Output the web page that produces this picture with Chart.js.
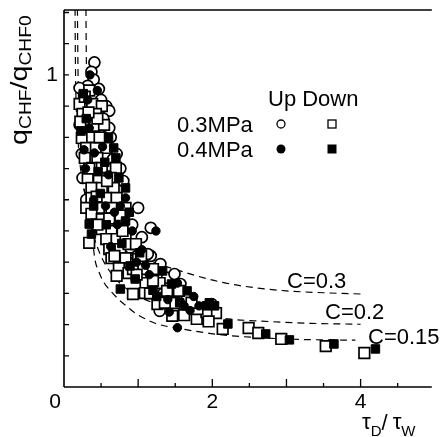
<!DOCTYPE html>
<html><head><meta charset="utf-8">
<script src="https://cdn.jsdelivr.net/npm/chart.js@4.4.1/dist/chart.umd.min.js"></script>
<style>html,body{margin:0;padding:0;background:#fff;}canvas{display:block;}</style>
</head><body>
<canvas id="c" width="441" height="437"></canvas>
<script>
// ---- data ----
const upOpenX = [0.41,0.37,0.40,0.32,0.47,0.50,0.57,0.44,0.61,0.21,0.63,0.61,0.71,0.76,0.80,0.24,0.25,1.00,1.17,0.89,1.17,1.39,1.29,1.99,1.86,1.49,1.30,1.13,1.57,0.21,0.35,0.54,0.92,1.05,0.66,0.48,1.66,0.30,
  0.27,0.53,0.42,0.86,1.34,0.66];
const upOpenY = [1.04,1.01,0.985,0.965,0.955,0.92,0.90,0.89,0.885,0.958,0.80,0.83,0.747,0.70,0.66,0.747,0.67,0.574,0.51,0.446,0.42,0.35,0.244,0.266,0.237,0.362,0.394,0.426,0.33,0.84,0.70,0.62,0.52,0.48,0.55,0.81,0.29,0.60,
  0.80,0.86,0.65,0.40,0.30,0.73];

const downOpenX = [0.21,0.38,0.51,0.25,0.43,0.28,0.41,0.54,0.24,0.38,0.30,0.43,0.57,0.28,0.45,0.38,0.51,0.70,0.32,0.47,0.63,0.37,0.51,0.67,0.37,0.57,0.71,0.30,0.47,0.64,0.83,
  0.37,0.51,0.67,0.76,0.51,0.64,0.34,0.57,0.71,0.83,0.61,0.76,0.64,0.83,0.74,0.71,0.87,
  0.87,0.97,1.00,0.93,1.07,1.20,1.10,1.29,0.93,1.09,1.39,1.55,1.26,1.49,1.46,1.79,2.05,2.14,1.92,1.95,1.80,
  2.49,2.62,2.93,3.53,4.05,0.34,0.28,0.45,
  0.22,0.33,0.48,0.34,0.58,0.44,0.61,0.45,0.79,0.98,1.16,1.36,1.62,1.04,0.68,1.20,1.72];
const downOpenY = [0.907,0.907,0.90,0.875,0.875,0.837,0.837,0.84,0.798,0.80,0.766,0.766,0.766,0.734,0.734,0.702,0.702,0.702,0.67,0.67,0.67,0.638,0.638,0.638,0.606,0.606,0.606,0.574,0.574,0.574,0.574,
  0.555,0.538,0.532,0.55,0.506,0.50,0.462,0.474,0.474,0.478,0.442,0.442,0.413,0.413,0.381,0.356,0.365,
  0.458,0.458,0.41,0.378,0.378,0.378,0.333,0.333,0.298,0.301,0.308,0.308,0.266,0.269,0.228,0.218,0.237,0.186,0.24,0.21,0.25,
  0.189,0.173,0.154,0.131,0.109,0.95,0.93,0.86,
  0.85,0.88,0.80,0.70,0.66,0.61,0.54,0.52,0.50,0.36,0.30,0.27,0.23,0.42,0.42,0.34,0.27];

const upFillX = [1.24,1.53,1.62,1.53,0.83,0.76,1.05,0.92,0.45,0.34,0.60,0.52,0.29,0.40,0.68,1.15,1.40,1.70,1.82,0.98,0.41,0.63,0.35,1.75,
  0.32,0.56,1.10,1.42,0.72,0.27];
const upFillY = [0.50,0.333,0.26,0.19,0.606,0.58,0.44,0.50,0.95,0.83,0.68,0.77,0.70,0.60,0.56,0.36,0.28,0.245,0.26,0.40,0.75,0.45,1.00,0.29,
  0.92,0.58,0.39,0.24,0.52,0.76];

const downFillX = [0.34,0.83,0.37,0.89,0.96,1.33,1.66,1.92,0.76,0.67,0.74,0.83,0.70,0.26,0.30,0.49,0.55,2.21,2.72,3.04,3.64,4.20,1.96,2.03,0.57,1.20,1.02,0.60,1.45,0.40,
  0.23,0.46,0.88,1.25,1.56,0.78];
const downFillY = [0.522,0.532,0.49,0.388,0.346,0.372,0.308,0.26,0.314,0.766,0.67,0.638,0.734,0.94,0.86,0.62,0.72,0.202,0.17,0.151,0.138,0.122,0.27,0.26,0.52,0.31,0.43,0.80,0.33,0.58,
  0.82,0.69,0.56,0.29,0.27,0.46];

// dashed model curves
const c30X = [0.148,0.152,0.157,0.170,0.195,0.24,0.32,0.45,0.62,0.85,1.10,1.39,1.79,2.14,2.45,3.00,3.50,4.00];
const c30Y = [1.25,1.10,0.98,0.87,0.77,0.67,0.59,0.52,0.47,0.43,0.405,0.385,0.356,0.335,0.322,0.308,0.302,0.298];
const c20X = [0.180,0.185,0.192,0.205,0.235,0.28,0.36,0.48,0.65,0.90,1.20,1.60,2.00,2.22,2.67,3.33,4.00];
const c20Y = [1.25,1.10,0.97,0.85,0.73,0.62,0.52,0.43,0.36,0.305,0.27,0.243,0.227,0.218,0.211,0.204,0.201];
const c15X = [0.295,0.30,0.31,0.325,0.345,0.37,0.41,0.47,0.54,0.62,0.74,0.87,0.96,1.22,1.62,1.96,2.32,3.10,3.93];
const c15Y = [1.25,1.08,0.90,0.76,0.64,0.53,0.42,0.37,0.334,0.31,0.28,0.254,0.237,0.205,0.185,0.172,0.163,0.153,0.150];
const curveLabels = ['C=0.3','C=0.2','C=0.15'];

// axes
const xMajorTicks = [1,2,3,4];
const xMinorTicks = [0.5,1.5,2.5,3.5,4.5];
const xTickLabels = [[0,'0'],[2,'2'],[4,'4']];
const yTicks = [0.1,0.2,0.3,0.4,0.5,0.6,0.7,0.8,0.9,1.0,1.1,1.2];
const yTickLabels = [[1,'1']];
const seriesNames = ['0.3MPa','0.4MPa'];

const pts = (xs, ys) => xs.map((x, i) => ({x, y: ys[i]}));
const FONT = '"Liberation Sans", Arial, Helvetica, sans-serif';

const curveDs = (xs, ys) => ({
  type: 'scatter', data: pts(xs, ys), showLine: true, pointRadius: 0,
  borderColor: '#000', borderWidth: 1.2, borderDash: [7, 5],
  cubicInterpolationMode: 'monotone', fill: false, order: 10
});

const deco = {
  id: 'deco',
  afterDraw(chart) {
    const {ctx, chartArea: a, scales: {x, y}} = chart;
    ctx.save();
    ctx.strokeStyle = '#000'; ctx.fillStyle = '#000'; ctx.lineWidth = 1.6;
    ctx.beginPath();
    ctx.moveTo(a.left, a.top); ctx.lineTo(a.right, a.top);
    ctx.moveTo(a.left, a.top); ctx.lineTo(a.left, a.bottom);
    ctx.moveTo(a.left, a.bottom); ctx.lineTo(a.right, a.bottom);
    ctx.stroke();
    ctx.lineWidth = 1.3;
    ctx.beginPath();
    xMajorTicks.forEach(v => { const p = x.getPixelForValue(v); ctx.moveTo(p, a.bottom); ctx.lineTo(p, a.bottom - 8); });
    xMinorTicks.forEach(v => { const p = x.getPixelForValue(v); ctx.moveTo(p, a.bottom); ctx.lineTo(p, a.bottom - 4); });
    yTicks.forEach(v => { const p = y.getPixelForValue(v); ctx.moveTo(a.left, p); ctx.lineTo(a.left + 5, p); });
    ctx.stroke();
    ctx.font = '21px ' + FONT;
    ctx.textAlign = 'center'; ctx.textBaseline = 'alphabetic';
    xTickLabels.forEach(([v, t]) => {
      let p = x.getPixelForValue(v); if (v === 0) p -= 9;
      ctx.fillText(t, p, a.bottom + 21);
    });
    ctx.textAlign = 'right'; ctx.textBaseline = 'middle';
    yTickLabels.forEach(([v, t]) => ctx.fillText(t, a.left - 6, y.getPixelForValue(v)));
    ctx.font = '22px ' + FONT; ctx.textAlign = 'left'; ctx.textBaseline = 'alphabetic';
    ctx.fillText(curveLabels[0], 287, 288);
    ctx.fillText(curveLabels[1], 325, 319);
    ctx.fillText(curveLabels[2], 368, 344);
    ctx.fillText('Up Down', 268, 106);
    ctx.fillText(seriesNames[0], 177, 132);
    ctx.fillText(seriesNames[1], 177, 157);
    ctx.lineWidth = 1.3;
    ctx.beginPath(); ctx.arc(281, 124, 4, 0, Math.PI * 2); ctx.stroke();
    ctx.strokeRect(328, 120, 8, 8);
    ctx.beginPath(); ctx.arc(281, 149, 4.5, 0, Math.PI * 2); ctx.fill();
    ctx.fillRect(327.5, 144.5, 9, 9);
    // y title (rotated, wide lettering)
    ctx.save();
    ctx.translate(27, 145); ctx.rotate(-Math.PI / 2); ctx.scale(1.2, 1);
    ctx.textAlign = 'left'; ctx.textBaseline = 'alphabetic';
    let cx = 0;
    const seg = (t, size, dy) => { ctx.font = size + 'px ' + FONT; ctx.fillText(t, cx, dy); cx += ctx.measureText(t).width; };
    seg('q', 24, 0); seg('CHF', 16, 4); seg('/', 24, 0); seg('q', 24, 0); seg('CHF0', 16, 4);
    ctx.restore();
    ctx.textAlign = 'left';
    cx = 362;
    const segx = (t, size, yy) => { ctx.font = size + 'px ' + FONT; ctx.fillText(t, cx, yy); cx += ctx.measureText(t).width; };
    segx('\u03C4', 22, 429); segx('D', 15, 436); segx('/', 22, 430); cx += 5; segx('\u03C4', 22, 429); segx('W', 15, 436);
    ctx.restore();
  }
};

new Chart(document.getElementById('c'), {
  type: 'scatter',
  data: {
    datasets: [
      curveDs(c30X, c30Y), curveDs(c20X, c20Y), curveDs(c15X, c15Y),
      { label: '0.3MPa Up', data: pts(upOpenX, upOpenY), pointStyle: 'circle', pointRadius: 5.5,
        pointBackgroundColor: '#fff', pointBorderColor: '#000', pointBorderWidth: 1.7, order: 4 },
      { label: '0.3MPa Down', data: pts(downOpenX, downOpenY), pointStyle: 'rect', pointRadius: 7.5,
        pointBackgroundColor: '#fff', pointBorderColor: '#000', pointBorderWidth: 1.7, order: 3 },
      { label: '0.4MPa Down', data: pts(downFillX, downFillY), pointStyle: 'rect', pointRadius: 6,
        pointBackgroundColor: '#000', pointBorderColor: '#000', pointBorderWidth: 1, order: 2 },
      { label: '0.4MPa Up', data: pts(upFillX, upFillY), pointStyle: 'circle', pointRadius: 4.2,
        pointBackgroundColor: '#000', pointBorderColor: '#000', pointBorderWidth: 1, order: 1 }
    ]
  },
  options: {
    responsive: false, animation: false, devicePixelRatio: 1,
    layout: { padding: { top: 10, right: 0, left: 0, bottom: 0 } },
    plugins: { legend: { display: false }, tooltip: { enabled: false } },
    scales: {
      x: { type: 'linear', min: 0, max: 4.96, ticks: { display: false }, grid: { display: false }, border: { display: false },
           afterFit: s => { s.height = 50; } },
      y: { type: 'linear', min: 0, max: 1.208, ticks: { display: false }, grid: { display: false }, border: { display: false },
           afterFit: s => { s.width = 64; } }
    }
  },
  plugins: [deco]
});
</script>
</body></html>
